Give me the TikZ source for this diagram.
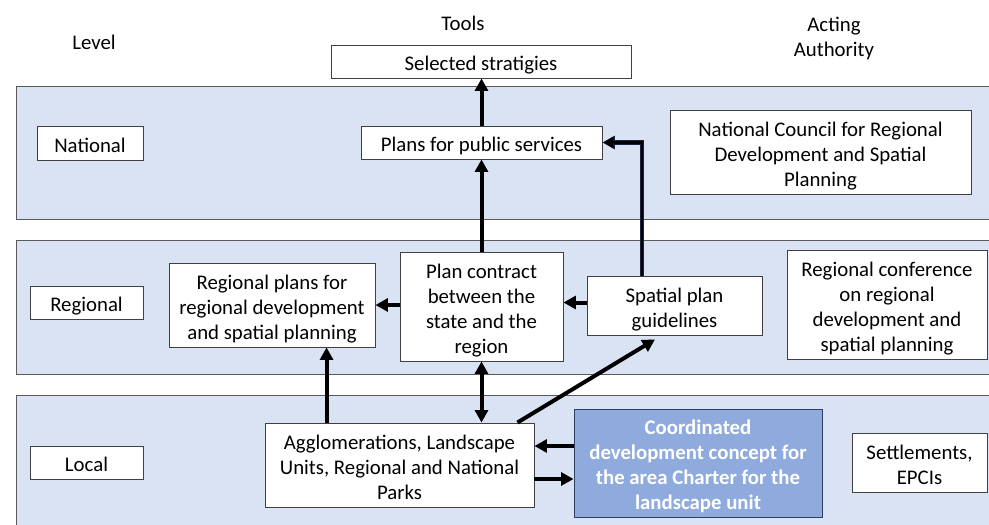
\documentclass[tikz,border=0pt]{standalone}
\usepackage{fontspec}
\setmainfont{Carlito}
\usetikzlibrary{arrows.meta,calc}
\definecolor{bandfill}{HTML}{DAE3F3}
\definecolor{bandline}{HTML}{5A5A5A}
\definecolor{boxline}{HTML}{404040}
\definecolor{cdcfill}{HTML}{8FAADC}
\definecolor{cdcline}{HTML}{2F4064}
\definecolor{navyline}{HTML}{1A2440}
\newcommand{\tx}[1]{\raisebox{-4pt}[\height][\depth]{\begin{tabular}{@{}c@{}}#1\end{tabular}}}
\tikzset{
  band/.style={fill=bandfill, draw=bandline, line width=1pt},
  box/.style={draw=boxline, fill=white, line width=0.9pt, inner sep=0pt, font=\fontsize{20.8}{25}\selectfont},
  hdr/.style={inner sep=0pt, align=center, font=\fontsize{20.8}{25}\selectfont},
  cdcbox/.style={box, fill=cdcfill, draw=cdcline, text=white, font=\fontsize{20.8}{25}\selectfont\bfseries},
  arr/.style={line width=4pt, -{Triangle[length=12.5pt,width=13pt]}},
  darr/.style={line width=4pt, {Triangle[length=12.5pt,width=13pt]}-{Triangle[length=12.5pt,width=13pt]}},
}
\begin{document}
\begin{tikzpicture}[x=1pt,y=-1pt]
\useasboundingbox (0,0) rectangle (989,525);
% bands
\draw[band] (16,86) rectangle (998,219);
\draw[band] (16,240) rectangle (998,374);
\draw[band] (16,395) rectangle (998,535);
% headers
\node[hdr] (hlevel) at (94,42) {Level};
\node[hdr] (htools) at (463,23) {Tools};
\node[hdr] (hact) at (834,38.5) {Acting\\Authority};
% boxes
\node[box, minimum width=300pt, minimum height=33pt] (sel) at (481,61.5) {\tx{Selected stratigies}};
\node[box, minimum width=106pt, minimum height=34pt] (nat) at (90,143) {\tx{National}};
\node[box, minimum width=241pt, minimum height=33pt] (pps) at (481.5,142.5) {\tx{Plans for public services}};
\node[box, minimum width=301pt, minimum height=84pt] (ncr) at (820.5,152) {\tx{National Council for Regional\\Development and Spatial\\Planning}};
\node[box, minimum width=113pt, minimum height=33pt] (reg) at (86.5,302.5) {\tx{Regional}};
\node[box, minimum width=206pt, minimum height=84pt] (rpl) at (272,305) {\tx{Regional plans for\\regional development\\and spatial planning}};
\node[box, minimum width=163pt, minimum height=109pt] (pc) at (481.5,306.5) {\tx{Plan contract\\between the\\state and the\\region}};
\node[box, minimum width=175pt, minimum height=59pt] (spg) at (674.5,305.5) {\tx{Spatial plan\\guidelines}};
\node[box, minimum width=200pt, minimum height=109pt] (rc) at (887,304.5) {\tx{Regional conference\\on regional\\development and\\spatial planning}};
\node[box, minimum width=113pt, minimum height=33pt] (loc) at (86.5,462.5) {\tx{Local}};
\node[box, minimum width=269pt, minimum height=84pt] (agg) at (399.5,465) {\tx{Agglomerations, Landscape\\Units, Regional and National\\Parks}};
\node[cdcbox, minimum width=248pt, minimum height=108pt] (cdc) at (698,463) {\tx{Coordinated\\development concept for\\the area Charter for the\\landscape unit}};
\node[box, minimum width=135pt, minimum height=59pt] (set) at (919.5,462.5) {\tx{Settlements,\\EPCIs}};
% arrows
\draw[arr] (pps.north) -- (pps.north |- sel.south);
\draw[arr] (pc.north) -- (pc.north |- pps.south);
\coordinate (spgtop) at ($(spg.north)+(-32.5,0)$);
\draw[arr, draw=navyline, line width=4.5pt] (spgtop) |- (pps.east);
\draw[arr, line width=2.6pt, -{Triangle[length=10pt,width=11pt]}, shorten >=1pt] (spgtop) |- (pps.east);
\draw[arr] (pc.west |- rpl.east) -- (rpl.east);
\coordinate (spgw) at ($(spg.west)+(0,-3)$);
\draw[arr] (spgw) -- (spgw -| pc.east);
\coordinate (aggtl) at ($(agg.north west)+(62,0)$);
\draw[arr] (aggtl) -- (aggtl |- rpl.south);
\draw[darr] (pc.south) -- (pc.south |- agg.north);
\coordinate (aggtr) at ($(agg.north east)+(-17,0)$);
\coordinate (spgb) at ($(spg.south)+(-19.5,4)$);
\draw[arr] (aggtr) -- (spgb);
\coordinate (cdcw1) at ($(cdc.west)+(0,-17)$);
\draw[arr] (cdcw1) -- (cdcw1 -| agg.east);
\coordinate (aggw2) at ($(agg.east)+(0,14)$);
\draw[arr] (aggw2) -- (aggw2 -| cdc.west);
\end{tikzpicture}
\end{document}
